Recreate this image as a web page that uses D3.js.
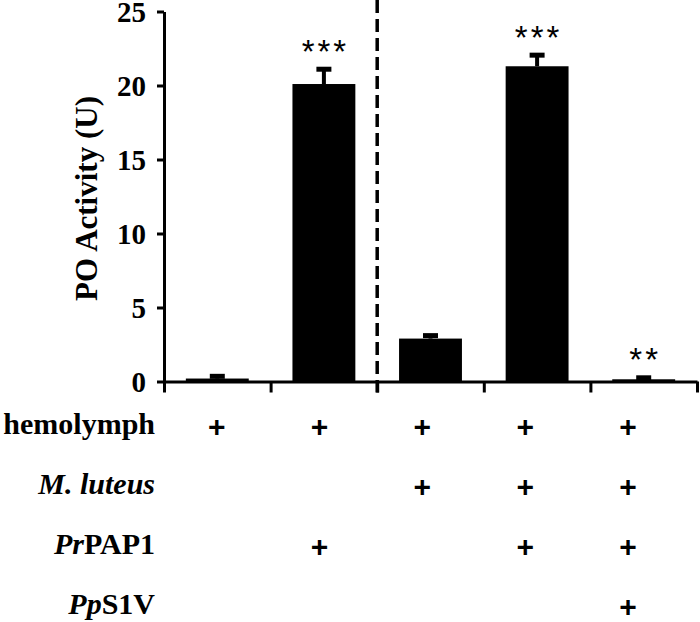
<!DOCTYPE html>
<html>
<head>
<meta charset="utf-8">
<script src="https://cdn.jsdelivr.net/npm/d3@7"></script>
<style>
  body { margin: 0; background: #fff; }
  svg text { font-family: "Liberation Serif", "Times New Roman", serif; font-weight: bold; }
</style>
</head>
<body>
<div id="chart"></div>
<script>
// Data
const groups = ['g1', 'g2', 'g3', 'g4', 'g5']
const means = [0.2, 20.1, 2.9, 21.3, 0.15]
const errors = [0.15, 1.0, 0.2, 0.75, 0.1]
const stars = ['', '***', '', '***', '**']
const yTicks = [0, 5, 10, 15, 20, 25]
// condition table: label segments [text, italic] and +/- per group
const rowLabels = [
  [['hemolymph', false]],
  [['M. luteus', true]],
  [['Pr', true], ['PAP1', false]],
  [['Pp', true], ['S1V', false]]
]
const rowMarks = [
  [1, 1, 1, 1, 1],
  [0, 0, 1, 1, 1],
  [0, 1, 0, 1, 1],
  [0, 0, 0, 0, 1]
]

;(({ width, height, plot, table }) => {
  const svg = d3.select('#chart')
    .append('svg')
    .attr('width', width)
    .attr('height', height)

  // Scales
  const x = d3.scaleBand()
    .domain(groups)
    .range([plot.left, plot.right])
    .paddingInner(0.41)
    .paddingOuter(0.205)
  const y = d3.scaleLinear()
    .domain([0, 25])
    .range([plot.bottom, plot.top])
  const xEdges = d3.scaleLinear()
    .domain([0, groups.length])
    .range([plot.left, plot.right])

  // Bars
  svg.selectAll('rect.bar')
    .data(groups)
    .enter()
    .append('rect')
    .attr('class', 'bar')
    .attr('x', g => x(g))
    .attr('width', x.bandwidth())
    .attr('y', (g, i) => y(means[i]))
    .attr('height', (g, i) => y(0) - y(means[i]))
    .attr('fill', '#000')

  // Error bars (upper only)
  const err = svg.append('g')
    .attr('stroke', '#000')
  groups.forEach((g, i) => {
    const cx = x(g) + x.bandwidth() / 2
    const top = y(means[i] + errors[i])
    err.append('line')
      .attr('x1', cx).attr('x2', cx)
      .attr('y1', y(means[i])).attr('y2', top)
      .attr('stroke-width', 4)
    err.append('line')
      .attr('x1', cx - 7.5).attr('x2', cx + 7.5)
      .attr('y1', top).attr('y2', top)
      .attr('stroke-width', 5)
  })

  // Significance stars
  svg.selectAll('text.star')
    .data(groups)
    .enter()
    .append('text')
    .attr('class', 'star')
    .attr('x', g => x(g) + x.bandwidth() / 2 + 1.5)
    .attr('y', (g, i) => y(means[i] + errors[i]) - 27)
    .attr('dy', '0.62em')
    .attr('text-anchor', 'middle')
    .style('font-family', '"Liberation Sans", Arial, sans-serif')
    .style('font-weight', 'normal')
    .style('font-size', '33px')
    .style('letter-spacing', '3px')
    .text((g, i) => stars[i])

  // Y axis
  const yAxis = svg.append('g')
    .attr('transform', `translate(${plot.left},0)`)
    .call(d3.axisLeft(y).tickValues(yTicks).tickSize(7).tickSizeOuter(0).tickPadding(11))
  yAxis.select('.domain').attr('stroke-width', 3)
  yAxis.selectAll('.tick line').attr('stroke-width', 3)
  yAxis.selectAll('.tick text')
    .style('font-size', '29px')
    .attr('dy', '0.36em')
    .attr('fill', '#000')

  // X axis with ticks at group boundaries
  const xAxis = svg.append('g')
    .attr('transform', `translate(0,${plot.bottom})`)
    .call(d3.axisBottom(xEdges).tickValues(d3.range(groups.length + 1)).tickSize(11).tickSizeOuter(0).tickFormat(''))
  xAxis.select('.domain').attr('stroke-width', 3)
  xAxis.selectAll('.tick line').attr('stroke-width', 3)

  // Dashed separator
  svg.append('line')
    .attr('x1', xEdges(2)).attr('x2', xEdges(2))
    .attr('y1', 0).attr('y2', plot.bottom + 11)
    .attr('stroke', '#000')
    .attr('stroke-width', 3.5)
    .attr('stroke-dasharray', '13,6')

  // Y title
  svg.append('text')
    .attr('transform', `translate(${plot.titleX},${(plot.top + plot.bottom) / 2 + 2}) rotate(-90)`)
    .attr('text-anchor', 'middle')
    .style('font-size', '31px')
    .text('PO Activity (U)')

  // Condition table
  const col = d3.scalePoint()
    .domain(groups)
    .range([table.left, table.right])
  const row = d3.scalePoint()
    .domain(d3.range(rowLabels.length))
    .range([table.top, table.bottom])

  rowLabels.forEach((segs, r) => {
    const t = svg.append('text')
      .attr('x', table.labelX)
      .attr('y', row(r))
      .attr('dy', '0.22em')
      .attr('text-anchor', 'end')
      .style('font-size', '30px')
    segs.forEach(([s, it]) => {
      t.append('tspan')
        .style('font-style', it ? 'italic' : 'normal')
        .text(s)
    })
    groups.forEach((g, c) => {
      if (!rowMarks[r][c]) return
      svg.append('text')
        .attr('x', col(g))
        .attr('y', row(r))
        .attr('dy', '0.34em')
        .attr('text-anchor', 'middle')
        .style('font-family', '"Liberation Sans", Arial, sans-serif')
        .style('font-size', '30px')
        .text('+')
    })
  })
})({
  width: 700,
  height: 622,
  plot: { left: 164, right: 697, top: 11.5, bottom: 381.5, titleX: 97 },
  table: { left: 216.7, right: 628, top: 427, bottom: 607, labelX: 155 }
});
</script>
</body>
</html>
